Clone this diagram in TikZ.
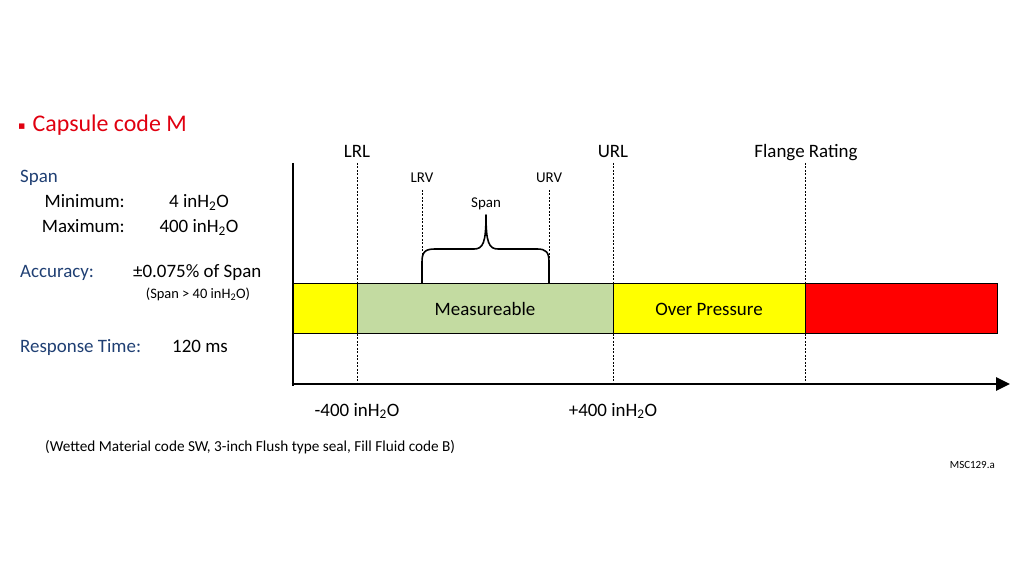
\documentclass[tikz,border=0pt]{standalone}
\usepackage{fontspec}
\setmainfont{Carlito}
\newfontfamily\dejavu{DejaVu Sans}
\usetikzlibrary{arrows.meta}
\definecolor{navy}{HTML}{1F3F73}
\definecolor{titlered}{HTML}{E00010}
\definecolor{measgreen}{HTML}{C3DBA1}
\definecolor{ovyellow}{HTML}{FFFF00}
\definecolor{flred}{HTML}{FF0000}
\tikzset{
  lab/.style={font=\fontsize{19}{22}\selectfont, inner sep=0pt},
  navylab/.style={lab, text=navy, anchor=base west},
  val/.style={lab, text=black},
  toplab/.style={font=\fontsize{19}{22}\selectfont, inner sep=0pt, anchor=base},
  smalllab/.style={font=\fontsize{15}{17}\selectfont, inner sep=0pt, anchor=base},
  notelab/.style={font=\fontsize{14.5}{17}\selectfont, inner sep=0pt, anchor=base},
  seg/.style={draw=black, line width=0.8pt},
  guide/.style={dashed, dash pattern=on 2pt off 1.5pt, line width=0.6pt},
  axis/.style={line width=3pt},
}
\begin{document}
\begin{tikzpicture}[x=1bp,y=-1bp]
\useasboundingbox (0,0) rectangle (1011,569);
% title
\node[anchor=base west, inner sep=0pt, text=titlered, font=\fontsize{24}{27}\selectfont] (title) at (18,132) {\raisebox{2.5bp}{\dejavu\fontsize{11}{11}\selectfont ▪}\kern7bp Capsule code M};
% left block
\node[navylab] (span) at (20,183) {Span};
\node[val, anchor=base east] (minl) at (125,208) {Minimum:};
\node[val, anchor=base] (minv) at (199,208) {4 inH\textsubscript{2}O};
\node[val, anchor=base east] (maxl) at (125,233) {Maximum:};
\node[val, anchor=base] (maxv) at (199,233) {400 inH\textsubscript{2}O};
\node[navylab] (acc) at (20,278) {Accuracy:};
\node[val, anchor=base west] (accv) at (133,278) {±0.075\% of Span};
\node[notelab] (accn) at (198,298.5) {(Span \textgreater\ 40 inH\textsubscript{2}O)};
\node[navylab] (resp) at (20,352) {Response Time:};
\node[val, anchor=base west] (respv) at (172,352) {120 ms};
% bar segments
\path[seg, fill=ovyellow] (293,283) rectangle (357,333);
\node[seg, fill=measgreen, minimum width=256bp, minimum height=50bp, inner sep=0pt, anchor=north west] (meas) at (357,283) {};
\node[seg, fill=ovyellow, minimum width=192bp, minimum height=50bp, inner sep=0pt, anchor=north west] (over) at (613,283) {};
\node[seg, fill=flred, minimum width=192bp, minimum height=50bp, inner sep=0pt, anchor=north west] (red) at (805,283) {};
\node[toplab] (meastxt) at (485,315) {Measureable};
\node[toplab] (overtxt) at (709,315) {Over Pressure};
% guide coordinates
\coordinate (lrlT) at (357,163); \coordinate (lrlB) at (357,384);
\coordinate (urlT) at (613,163); \coordinate (urlB) at (613,384);
\coordinate (flT) at (805,163); \coordinate (flB) at (805,384);
\coordinate (lrvT) at (422,190); \coordinate (lrvB) at (422,283);
\coordinate (urvT) at (549,190); \coordinate (urvB) at (549,283);
\draw[guide] (lrlT) -- (lrlB);
\draw[guide] (urlT) -- (urlB);
\draw[guide] (flT) -- (flB);
\draw[guide] (lrvT) -- (lrvB);
\draw[guide] (urvT) -- (urvB);
% top labels
\node[toplab] (lrl) at (357,158) {LRL};
\node[toplab] (url) at (613,158) {URL};
\node[toplab] (fl) at (806,158) {Flange Rating};
\node[smalllab] (lrv) at (422,183) {LRV};
\node[smalllab] (urv) at (549,183) {URV};
\node[smalllab] (spanlab) at (486,208) {Span};
% brace
\draw[line width=1.6pt, line join=round] (lrvB) -- (422,262) .. controls (422,252) and (425,249) .. (435,249) -- (474,249) .. controls (483,249) and (486,243) .. (486,215) .. controls (486,243) and (489,249) .. (498,249) -- (537,249) .. controls (546,249) and (549,252) .. (549,262) -- (urvB);
% axes
\coordinate (origin) at (293,384);
\coordinate (ytop) at (293,163);
\coordinate (xend) at (1010,384);
\draw[axis] (ytop) -- (293,385.5);
\draw[axis, -{Triangle[length=14bp,width=13bp]}] (291.5,384) -- (xend);
% axis labels
\node[toplab] (m400) at (357,416) {-400 inH\textsubscript{2}O};
\node[toplab] (p400) at (613,416) {+400 inH\textsubscript{2}O};
% footnote
\node[anchor=base west, inner sep=0pt, font=\fontsize{15.3}{18}\selectfont] (foot) at (45,451) {(Wetted Material code SW, 3-inch Flush type seal, Fill Fluid code B)};
\node[anchor=base east, inner sep=0pt, font=\fontsize{11}{13}\selectfont] (msc) at (995,468) {MSC129.a};
\end{tikzpicture}
\end{document}
